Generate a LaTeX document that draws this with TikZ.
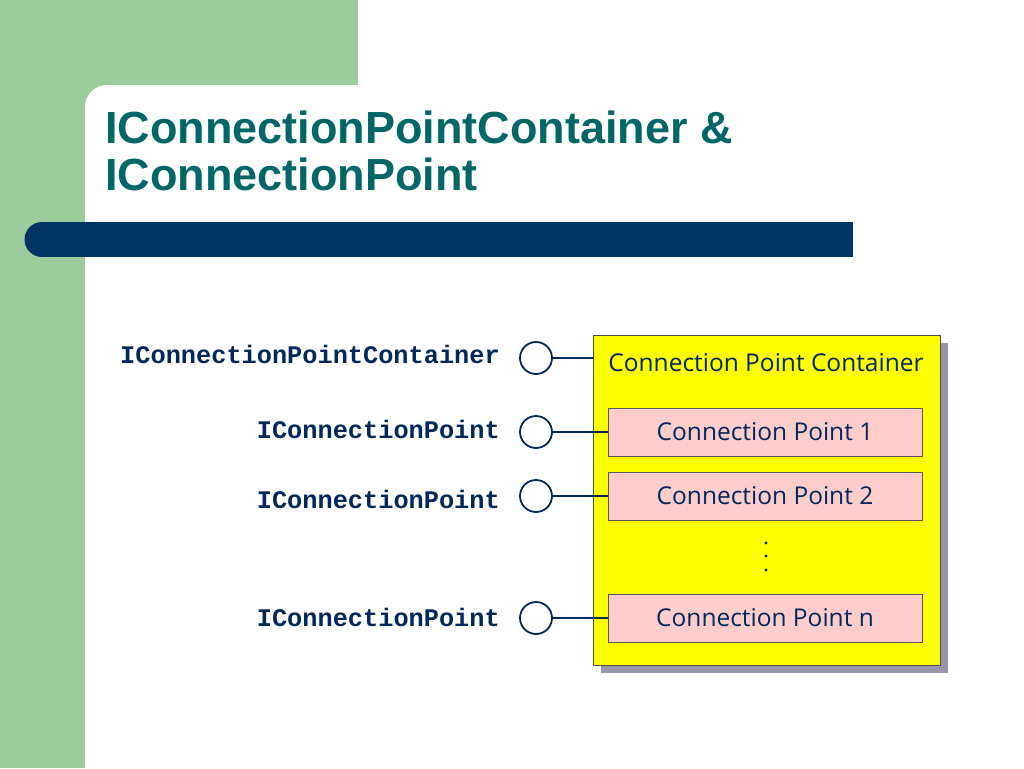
\documentclass[tikz,border=0pt]{standalone}
\usepackage{fontspec}
\setmainfont{Liberation Sans}
\newfontfamily\ifacefont{Liberation Mono}
\newfontfamily\boxfont{Open Sans}
\usetikzlibrary{positioning,shadows}

\definecolor{slidegreen}{RGB}{155,204,155}
\definecolor{barblue}{RGB}{0,51,102}
\definecolor{titleteal}{RGB}{0,102,102}
\definecolor{ifaceblue}{RGB}{0,40,90}
\definecolor{cpink}{RGB}{255,204,204}
\definecolor{contyellow}{RGB}{255,255,0}
\definecolor{shadowgrey}{RGB}{150,150,168}

\begin{document}
\begin{tikzpicture}[x=1pt, y=-1pt, line join=round, line cap=round,
    cpbox/.style={draw=black!65, fill=cpink, minimum width=314pt, minimum height=48pt,
      inner sep=0pt, text=ifaceblue, font=\boxfont\fontsize{24.5}{26}\selectfont},
    lollipop/.style={draw=ifaceblue, line width=1.8pt, fill=white, circle,
      minimum size=32pt, inner sep=0pt},
    iface/.style={anchor=base east, inner sep=0pt, text=ifaceblue,
      font=\ifacefont\bfseries\fontsize{25.3}{28}\selectfont}]
    \useasboundingbox (0,0) rectangle (1024,768);
    % slide background
    \fill[slidegreen] (0,0) rectangle (358,110);
    \fill[slidegreen] (0,0) rectangle (85,768);
    \fill[white] (85,768) [rounded corners=22pt]-- (85,85) [sharp corners]-- (358,85) -- (358,768) -- cycle;
    \fill[barblue] (42,222) rectangle (853,257);
    \fill[barblue] (42,239.5) circle (17.5);
    % title
    \node[anchor=base west, inner sep=0pt, text=titleteal,
      font=\bfseries\fontsize{45}{48}\selectfont] (title1) at (105,143) {IConnectionPointContainer \&};
    \node[anchor=base west, inner sep=0pt, text=titleteal,
      font=\bfseries\fontsize{45}{48}\selectfont] (title2) at (105,190) {IConnectionPoint};
    % container and its points
    \node[draw=black!70, fill=contyellow, minimum width=347pt, minimum height=330pt, inner sep=0pt,
      drop shadow={shadow xshift=8pt, shadow yshift=-8pt, fill=shadowgrey, opacity=1}] (cont) at (766.5,500) {};
    \node[text=ifaceblue, font=\boxfont\fontsize{24.5}{26}\selectfont] (conttitle) at (766,363) {Connection Point Container};
    \node[cpbox] (cp1) at (765,432) {Connection Point 1};
    \node[cpbox] (cp2) at (765,496) {Connection Point 2};
    \node[cpbox] (cpn) at (765,618) {Connection Point n};
    \fill[ifaceblue] (766,543) circle (1.6) (766,556) circle (1.6) (766,570) circle (1.6);
    % interfaces
    \node[lollipop] (l0) at (536,358) {};
    \node[lollipop] (l1) at (536,432) {};
    \node[lollipop] (l2) at (536,496) {};
    \node[lollipop] (ln) at (536,618) {};
    \draw[ifaceblue, line width=1.8pt] (l0.east) -- (l0.east -| cont.west);
    \draw[ifaceblue, line width=1.8pt] (l1.east) -- (cp1.west);
    \draw[ifaceblue, line width=1.8pt] (l2.east) -- (cp2.west);
    \draw[ifaceblue, line width=1.8pt] (ln.east) -- (cpn.west);
    \node[iface] (i0) at (500,363) {IConnectionPointContainer};
    \node[iface] (i1) at (500,438) {IConnectionPoint};
    \node[iface] (i2) at (500,508) {IConnectionPoint};
    \node[iface] (in) at (500,626) {IConnectionPoint};
  \end{tikzpicture}
\end{document}
